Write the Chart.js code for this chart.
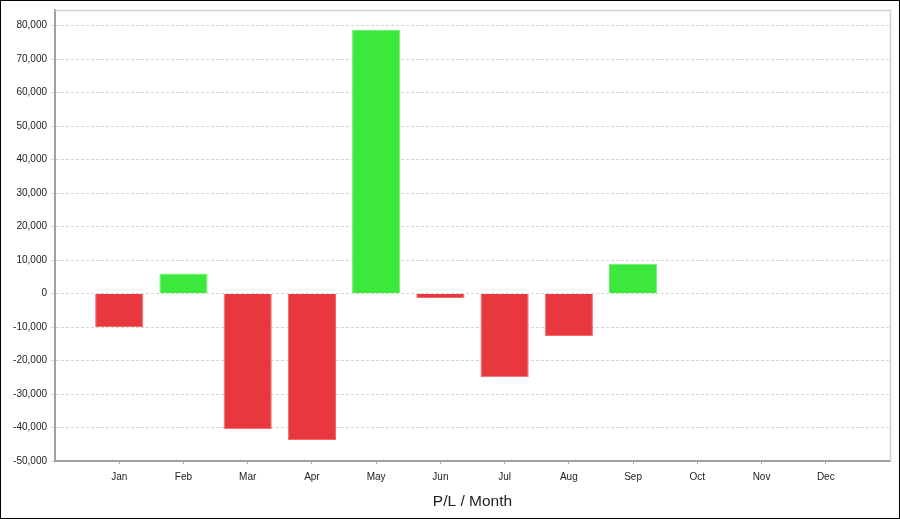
<!DOCTYPE html>
<html><head><meta charset="utf-8">
<script src="https://cdn.jsdelivr.net/npm/chart.js@4/dist/chart.umd.min.js"></script>
<style>html,body{margin:0;padding:0;background:#fff}#wrap{width:900px;height:519px;position:relative}</style>
</head><body><div id="wrap"><canvas id="c" width="900" height="519"></canvas></div>
<script>
const months = ['Jan','Feb','Mar','Apr','May','Jun','Jul','Aug','Sep','Oct','Nov','Dec'];
const pl = [-10000, 6000, -40500, -43700, 78700, -1300, -25000, -12700, 8900, null, null, null];
const yTicks = [-50000, -40000, -30000, -20000, -10000, 0, 10000, 20000, 30000, 40000, 50000, 60000, 70000, 80000];
const yMin = -50000, yMax = 84700;

const labels = [''].concat(months, ['']);
const data = [null].concat(pl, [null]);
const colors = data.map(v => v == null ? 'rgba(0,0,0,0)' : (v >= 0 ? '#3de83d' : '#e8383d'));
const borders = data.map(v => v == null ? 'rgba(0,0,0,0)' : (v >= 0 ? '#6ff06f' : '#f06a6e'));

const frame = {
  id: 'frame',
  beforeDraw(chart) {
    const ctx = chart.ctx;
    ctx.save();
    ctx.fillStyle = '#fff';
    ctx.fillRect(0, 0, chart.width, chart.height);
    ctx.restore();
  },
  afterDraw(chart) {
    const ctx = chart.ctx, a = chart.chartArea;
    ctx.save();
    ctx.strokeStyle = '#cfcfcf';
    ctx.lineWidth = 1.5;
    ctx.beginPath();
    ctx.moveTo(a.left, a.top + 0.5);
    ctx.lineTo(a.right + 0.5, a.top + 0.5);
    ctx.lineTo(a.right + 0.5, a.bottom);
    ctx.stroke();
    ctx.lineWidth = 1;
    ctx.strokeStyle = '#000';
    ctx.strokeRect(0.5, 0.5, chart.width - 1, chart.height - 1);
    ctx.restore();
  }
};

new Chart(document.getElementById('c'), {
  type: 'bar',
  data: { labels: labels, datasets: [{ data: data, backgroundColor: colors, borderColor: borders, borderWidth: 1, barPercentage: 0.75, categoryPercentage: 1 }] },
  options: {
    responsive: false, animation: false, devicePixelRatio: 1,
    layout: { padding: { left: 0, top: 8, right: 10, bottom: 0 } },
    plugins: { legend: { display: false }, tooltip: { enabled: false } },
    scales: {
      x: {
        offset: false,
        grid: { offset: false, drawOnChartArea: false, drawTicks: true, tickLength: 3,
          tickColor: c => (c.index === 0 || c.index === labels.length - 1) ? 'rgba(0,0,0,0)' : '#aaa' },
        border: { color: '#a0a0a0', width: 2 },
        ticks: { font: { family: 'Liberation Sans', size: 10 }, color: '#222', padding: 7, autoSkip: false, maxRotation: 0 },
        title: { display: true, text: 'P/L / Month', font: { family: 'Liberation Sans', size: 15.5 }, color: '#222', padding: { top: 4, bottom: 8 } },
        afterFit(s) { s.height = 58; }
      },
      y: {
        min: yMin, max: yMax,
        afterBuildTicks(s) { s.ticks = yTicks.map(v => ({ value: v })); },
        grid: { color: '#d6d6d6', tickLength: 4, tickColor: '#d6d6d6', drawTicks: true },
        border: { color: '#a0a0a0', width: 2, dash: [3, 2] },
        ticks: { font: { family: 'Liberation Sans', size: 10 }, color: '#222', padding: 4,
          callback: v => v.toLocaleString('en-US') },
        afterFit(s) { s.width = 55; }
      }
    }
  },
  plugins: [frame]
});
</script></body></html>
